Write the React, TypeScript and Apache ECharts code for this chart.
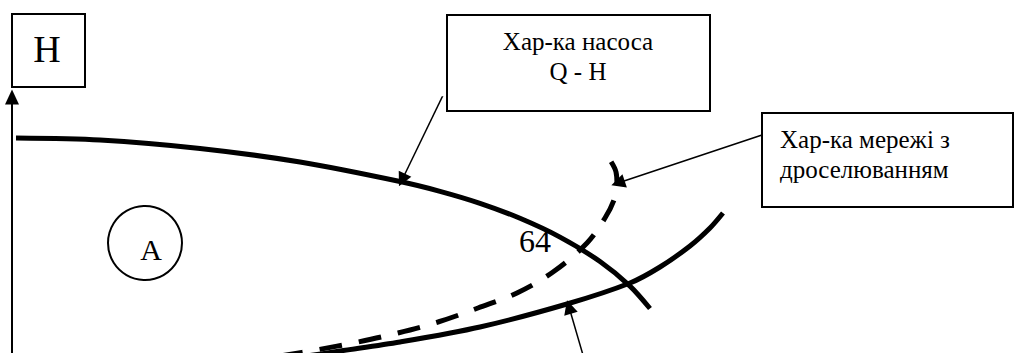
import React, { useEffect, useRef } from "react";
import * as echarts from "echarts";

// Chart coordinates: Q along the horizontal axis, H along the vertical axis
const pumpQ = [4, 88, 188, 288, 388, 428, 468, 508, 548, 588, 618, 638];
const pumpH = [215, 213, 204.5, 191, 171.5, 161.7, 149.7, 134.7, 115.9, 91.5, 66.9, 44.5];

const netQ = [288, 328, 388, 468, 555, 618, 648, 678, 698, 711];
const netH = [-4, 2, 11, 26, 49, 70, 86, 107, 125, 140];

const throttleQ = [268, 304, 346, 386, 426, 466, 505, 541, 575, 593, 602, 605, 604, 598];
const throttleH = [-3, 3, 11, 20, 31, 45, 60, 81, 110, 135, 153, 168, 181, 193];

// annotation arrows: [fromQ, fromH, toQ, toH]
const arrowPump = [435, 266, 390, 173];
const arrowThrottle = [750, 218, 606, 170];
const arrowNet = [571, -2, 557, 46];

const labelH = "H";
const labelPump = ["Хар-ка насоса", "Q - H"];
const labelThrottle = ["Хар-ка мережі з", "дроселюванням"];
const labelA = "A";
const label64 = "64";

const zip = (xs: number[], ys: number[]) => xs.map((x, i) => [x, ys[i]]);
const arrowData = (a: number[]) => ({ coords: [[a[0], a[1]], [a[2], a[3]]] });

const SERIF = "Liberation Serif";

const txt = (x: number, y: number, text: string, size: number, align: string) => ({
  type: "text",
  x,
  y,
  style: {
    text,
    fontFamily: SERIF,
    fontSize: size,
    fill: "#000",
    align,
    verticalAlign: "middle",
  },
});

export default function App() {
  const ref = useRef<HTMLDivElement>(null);
  useEffect(() => {
    document.body.style.margin = "0";
    if (!ref.current) return;
    const chart = echarts.init(ref.current, undefined, { renderer: "svg" });
    chart.setOption({
      animation: false,
      backgroundColor: "#ffffff",
      textStyle: { fontFamily: SERIF },
      grid: { left: 12, right: 1, top: 97, bottom: 0, containLabel: false },
      xAxis: {
        type: "value",
        min: 0,
        max: 1001,
        show: false,
      },
      yAxis: {
        type: "value",
        min: 0,
        max: 256,
        axisLine: {
          show: true,
          onZero: false,
          symbol: ["none", "triangle"],
          symbolSize: [14, 15],
          lineStyle: { color: "#000", width: 2 },
        },
        axisTick: { show: false },
        axisLabel: { show: false },
        splitLine: { show: false },
      },
      series: [
        {
          type: "line",
          data: zip(pumpQ, pumpH),
          smooth: 0.3,
          symbol: "none",
          lineStyle: { color: "#000", width: 5, cap: "butt" },
        },
        {
          type: "line",
          data: zip(netQ, netH),
          smooth: 0.3,
          symbol: "none",
          lineStyle: { color: "#000", width: 5, cap: "butt" },
        },
        {
          type: "line",
          data: zip(throttleQ, throttleH),
          smooth: 0.35,
          symbol: "none",
          lineStyle: { color: "#000", width: 5, type: [23, 17], cap: "butt" },
        },
        {
          type: "lines",
          coordinateSystem: "cartesian2d",
          symbol: ["none", "triangle"],
          symbolSize: [10, 14],
          lineStyle: { color: "#000", width: 1.5, opacity: 1, curveness: 0 },
          data: [arrowData(arrowPump), arrowData(arrowThrottle), arrowData(arrowNet)],
        },
      ],
      graphic: [
        {
          type: "rect",
          shape: { x: 12, y: 14, width: 73, height: 73 },
          style: { fill: "#fff", stroke: "#000", lineWidth: 2 },
        },
        txt(47, 49, labelH, 38, "center"),
        {
          type: "rect",
          shape: { x: 447, y: 15, width: 263, height: 96 },
          style: { fill: "#fff", stroke: "#000", lineWidth: 2 },
        },
        txt(578, 41, labelPump[0], 25, "center"),
        txt(578, 71, labelPump[1], 25, "center"),
        {
          type: "rect",
          shape: { x: 762, y: 113, width: 251, height: 94 },
          style: { fill: "#fff", stroke: "#000", lineWidth: 2 },
        },
        txt(780, 139, labelThrottle[0], 25, "left"),
        txt(780, 169, labelThrottle[1], 25, "left"),
        {
          type: "circle",
          shape: { cx: 145, cy: 243, r: 37 },
          style: { fill: "none", stroke: "#000", lineWidth: 2 },
        },
        txt(151, 249, labelA, 30, "center"),
        txt(535, 241, label64, 32, "center"),
      ],
    });
    return () => chart.dispose();
  }, []);
  return <div ref={ref} style={{ width: 1014, height: 353 }} />;
}
